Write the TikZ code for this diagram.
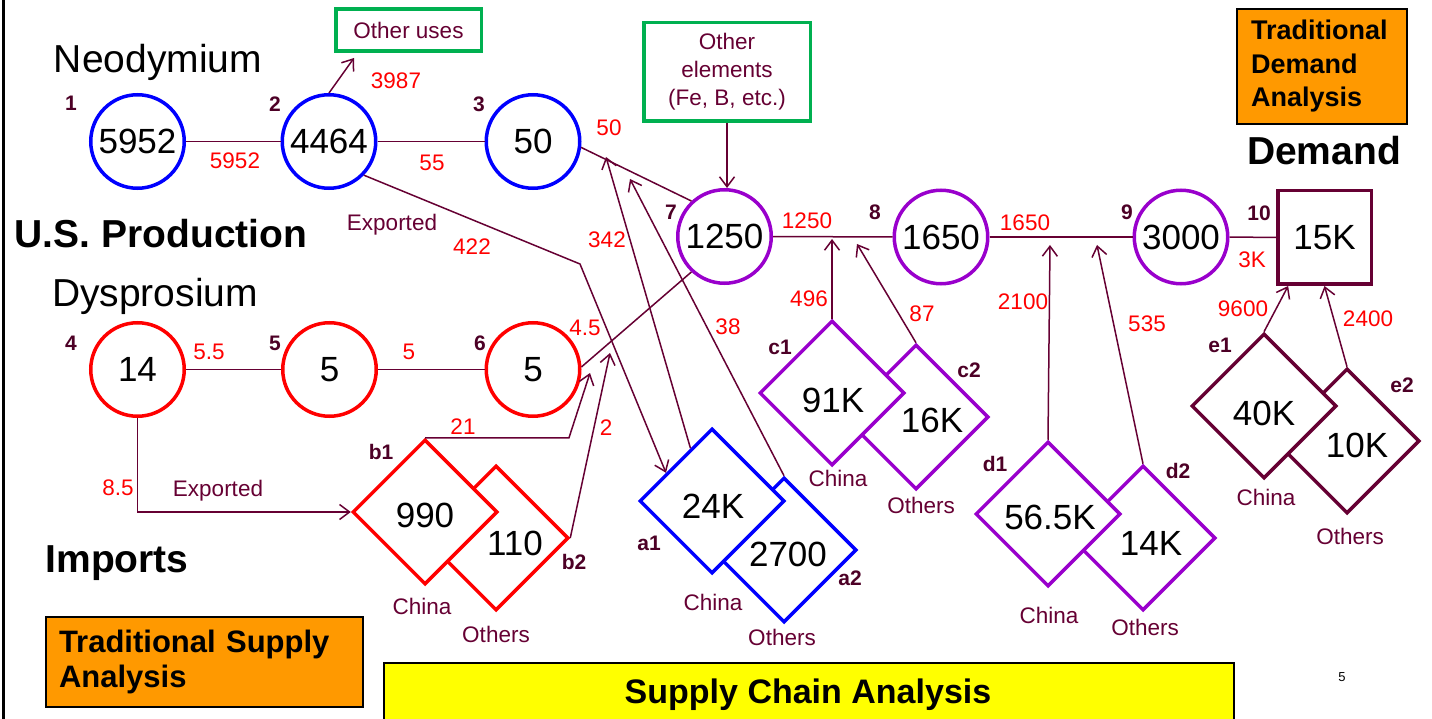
\documentclass[tikz,border=0pt]{standalone}
\usepackage{fontspec}
\setmainfont{Liberation Sans}
\usetikzlibrary{arrows.meta,shapes.geometric,calc}
\definecolor{mrn}{HTML}{660033}
\definecolor{numc}{HTML}{4D0026}
\definecolor{pur}{HTML}{9900CC}
\definecolor{grn}{HTML}{00B050}
\definecolor{org}{HTML}{FF9900}
\definecolor{yel}{HTML}{FFFF00}
\begin{document}
\begin{tikzpicture}[x=1pt,y=-1pt,
 circ/.style={circle, line width=3.5pt, minimum size=93.5pt, inner sep=0pt, font=\fontsize{35}{42}\selectfont},
 dia/.style={diamond, line width=3.5pt, minimum width=145pt, minimum height=145pt, inner sep=0pt, fill=white},
 ln/.style={draw=mrn, line width=1.5pt},
 arr/.style={ln, -{Straight Barb[length=10pt,width=15pt,line width=1.5pt]}},
 rl/.style={text=red, inner sep=0pt, font=\fontsize{22.5}{27}\selectfont},
 ml/.style={text=mrn, inner sep=0pt, font=\fontsize{22.5}{27}\selectfont},
 nl/.style={text=numc, inner sep=0pt, font=\bfseries\fontsize{21}{25}\selectfont},
 bn/.style={inner sep=0pt, font=\fontsize{35}{42}\selectfont},
 ttl/.style={inner sep=0pt, anchor=base, font=\fontsize{39}{46}\selectfont},
 bttl/.style={inner sep=0pt, anchor=base, font=\bfseries\fontsize{39}{46}\selectfont},
]
\useasboundingbox (0,0) rectangle (1432,719);
\fill[white] (0,0) rectangle (1432,719);
\draw[line width=3pt] (3,0) -- (3,719);

% titles
\node[ttl] (tneo) at (158,73) {Neodymium};
\node[bttl] (tusp) at (161,248) {U.S. Production};
\node[ttl] (tdys) at (155,307) {Dysprosium};
\node[bttl] (timp) at (117,572) {Imports};
\node[bttl] (tdem) at (1324,165) {Demand};

% boxes
\node[draw=grn, line width=3.5pt, minimum width=145.5pt, minimum height=42pt, ml] (otheruses) at (408.5,30) {Other uses};
\node[draw=grn, line width=3.5pt, minimum width=166.5pt, minimum height=98.5pt, inner sep=0pt, align=center, text=mrn, font=\fontsize{22.5}{28}\selectfont] (otherel) at (727,72) {Other\\elements\\(Fe, B, etc.)};
\node[draw=black, line width=2pt, fill=org, minimum width=170pt, minimum height=115pt, text width=142pt, align=left, inner sep=0pt, font=\bfseries\fontsize{27}{33.5}\selectfont] (tda) at (1322,66.5) {Traditional\\Demand\\Analysis};
\node[draw=black, line width=2pt, fill=org, minimum width=317pt, minimum height=90pt, text width=291pt, align=left, inner sep=0pt, font=\bfseries\fontsize{31}{35}\selectfont] (tsa) at (204.5,662) {Traditional Supply\\Analysis};
\node[draw=black, line width=1.5pt, fill=yel, minimum width=850pt, minimum height=75pt, anchor=north west, inner sep=0pt] (scabox) at (383,662) {};
\node[inner sep=0pt, anchor=base, font=\bfseries\fontsize{34}{40}\selectfont] (sca) at (808,703) {Supply Chain Analysis};
\node[inner sep=0pt, font=\fontsize{13}{15}\selectfont] (pg) at (1342,677) {5};

% circles
\node[circ, draw=blue] (n1) at (137.5,141.5) {5952};
\node[circ, draw=blue] (n2) at (329,141.5) {4464};
\node[circ, draw=blue] (n3) at (533,141.5) {50};
\node[circ, draw=red] (n4) at (137.5,369.5) {14};
\node[circ, draw=red] (n5) at (329.5,369.5) {5};
\node[circ, draw=red] (n6) at (533,369.5) {5};
\node[circ, draw=pur] (n7) at (724.5,236.5) {1250};
\node[circ, draw=pur] (n8) at (941,237) {1650};
\node[circ, draw=pur] (n9) at (1181,237) {3000};
\node[rectangle, draw=mrn, line width=3.5pt, minimum size=93.5pt, inner sep=0pt, font=\fontsize{35}{42}\selectfont] (sq10) at (1324.5,237.5) {15K};

% diamonds (back ones first)
\node[dia, draw=red] (b2) at (496,538) {};
\node[dia, draw=red] (b1) at (425,512) {};
\node[dia, draw=blue] (a2) at (784,550) {};
\node[dia, draw=blue] (a1) at (712,501) {};
\node[dia, draw=pur] (c2) at (916,417) {};
\node[dia, draw=pur] (c1) at (832,393) {};
\node[dia, draw=pur] (d2) at (1143,538) {};
\node[dia, draw=pur] (d1) at (1048,514) {};
\node[dia, draw=mrn] (e2) at (1347,441) {};
\node[dia, draw=mrn] (e1) at (1264,406) {};

\node[bn] (b1t) at (425,515) {990};
\node[bn] (b2t) at (515,543) {110};
\node[bn] (a1t) at (713,506) {24K};
\node[bn] (a2t) at (788,554) {2700};
\node[bn] (c1t) at (833,400) {91K};
\node[bn] (c2t) at (932,420) {16K};
\node[bn] (d1t) at (1050,517) {56.5K};
\node[bn] (d2t) at (1151,543) {14K};
\node[bn] (e1t) at (1264,413) {40K};
\node[bn] (e2t) at (1357,445) {10K};

% number labels
\node[nl] (l1) at (71,103) {1};
\node[nl] (l2) at (275,104) {2};
\node[nl] (l3) at (479,104) {3};
\node[nl] (l4) at (71,343) {4};
\node[nl] (l5) at (275,343) {5};
\node[nl] (l6) at (480,343) {6};
\node[nl] (l7) at (671,212) {7};
\node[nl] (l8) at (875,212) {8};
\node[nl] (l9) at (1127,212) {9};
\node[nl] (l10) at (1259,213) {10};
\node[nl] (lb1) at (381,452) {b1};
\node[nl] (lb2) at (574,562) {b2};
\node[nl] (la1) at (649,543) {a1};
\node[nl] (la2) at (850,578) {a2};
\node[nl] (lc1) at (780,347) {c1};
\node[nl] (lc2) at (969,370) {c2};
\node[nl] (ld1) at (995,464) {d1};
\node[nl] (ld2) at (1178,471) {d2};
\node[nl] (le1) at (1220,345) {e1};
\node[nl] (le2) at (1402,385) {e2};

% China / Others
\node[ml] (bch) at (422,606) {China};
\node[ml] (bot) at (496,634) {Others};
\node[ml] (ach) at (713,602) {China};
\node[ml] (aot) at (782,637) {Others};
\node[ml] (cch) at (838,478) {China};
\node[ml] (cot) at (921,505) {Others};
\node[ml] (dch) at (1049,615) {China};
\node[ml] (dot) at (1145,627) {Others};
\node[ml] (ech) at (1266,497) {China};
\node[ml] (eot) at (1350,536) {Others};

% flow labels
\node[rl] (f1) at (235,161) {5952};
\node[rl] (f2) at (432,163) {55};
\node[rl] (f3) at (396,81) {3987};
\node[rl] (f4) at (609,128) {50};
\node[ml, anchor=base] (fex1) at (392,231) {Exported};
\node[rl] (f5) at (472,247) {422};
\node[rl] (f6) at (607,240) {342};
\node[rl] (f7) at (728,327) {38};
\node[rl] (f8) at (807,221) {1250};
\node[rl] (f9) at (809,299) {496};
\node[rl] (f10) at (922,314) {87};
\node[rl] (f11) at (1025,223) {1650};
\node[rl] (f12) at (1023,302) {2100};
\node[rl] (f13) at (1147,324) {535};
\node[rl] (f14) at (1252,260) {3K};
\node[rl] (f15) at (1243,309) {9600};
\node[rl] (f16) at (1368,319) {2400};
\node[rl] (f17) at (209,352) {5.5};
\node[rl] (f18) at (409,352) {5};
\node[rl] (f19) at (585,328) {4.5};
\node[rl] (f20) at (463,427) {21};
\node[rl] (f21) at (606,428) {2};
\node[rl] (f22) at (118,488) {8.5};
\node[ml, anchor=base] (fex2) at (218,496) {Exported};

% free ends
\coordinate (tou) at (354,58);
\coordinate (bend1) at (580,264);
\coordinate (t342) at (606,157);
\coordinate (t38) at (630,179);
\coordinate (t21) at (590,373);
\coordinate (t2) at (610,353);
\coordinate (tc1) at (832,239);
\coordinate (tc2) at (857,244);
\coordinate (td1) at (1050,245);
\coordinate (td2) at (1097,245);

% connectors
\draw[ln] (n1) -- (n2);
\draw[ln] (n2) -- (n3);
\draw[arr] (n2.north) -- (tou);
\draw[ln] (n3.-7) -- (n7.133);
\draw[arr] (n2.-44) -- (bend1) -- ($(a1.west)!0.38!(a1.north)$);
\draw[arr] ($(a1.west)!0.71!(a1.north)$) -- (t342);
\draw[arr] (a2.north) -- (t38);
\draw[ln] (n4) -- (n5);
\draw[ln] (n5) -- (n6);
\draw[arr] (n4.south) |- (b1.west);
\draw[ln] (n6.3) -- (n7.227);
\draw[arr] (b1.north) -- ++(144,0) -- (t21);
\draw[arr] (b2.east) -- (t2);
\draw[arr] (otherel.south) -- (otherel.south |- n7.north);
\draw[ln] (n7) -- (n8);
\draw[ln] (n8) -- (n9);
\draw[ln] (n9) -- (sq10);
\draw[arr] (c1.north) -- (tc1);
\draw[arr] (c2.north) -- (tc2);
\draw[arr] (d1.north) -- (td1);
\draw[arr] (d2.north) -- (td2);
\draw[arr] (e1.north) -- ($(sq10.south west)!0.125!(sq10.south east)$);
\draw[arr] (e2.north) -- (sq10.south);
\end{tikzpicture}
\end{document}
